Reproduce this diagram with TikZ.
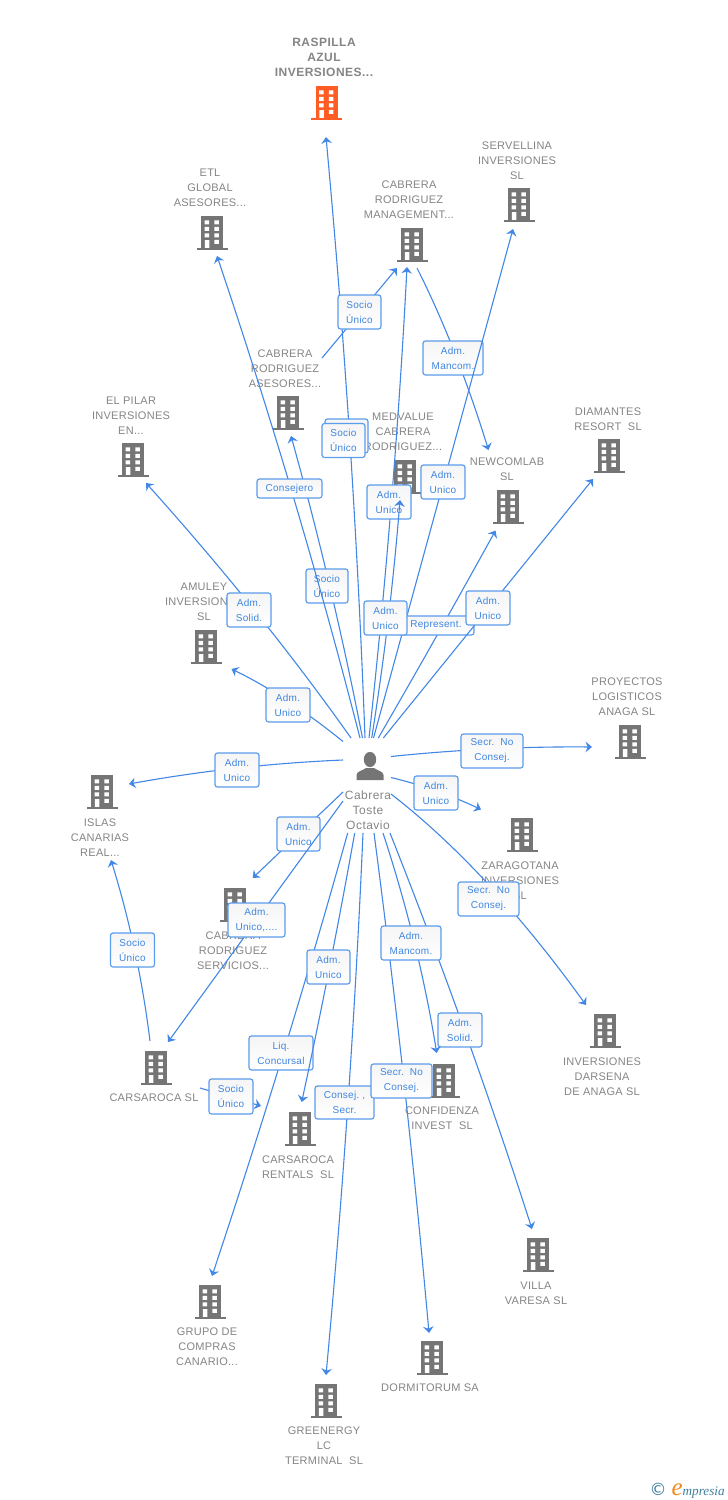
\documentclass[tikz,border=0pt]{standalone}
\usepackage{fontspec}
\setmainfont{Liberation Sans}
\newfontfamily\lblf{Liberation Sans}[LetterSpace=2.5]
\newfontfamily\boxf{Liberation Sans}[LetterSpace=2.5]
\newfontfamily\perf{Liberation Sans}[LetterSpace=4]
\newfontfamily\lblb{Liberation Sans}[LetterSpace=4]
\newfontfamily\markf{Liberation Serif}
\newfontfamily\markc{DejaVu Sans}
\usetikzlibrary{arrows.meta,calc}
\definecolor{linkblue}{HTML}{4287E6}
\definecolor{tagline}{HTML}{5C9CEC}
\definecolor{tagtext}{HTML}{3F86E0}
\definecolor{tagtop}{HTML}{F5F5F5}
\definecolor{labelgray}{HTML}{858585}
\definecolor{icongray}{HTML}{757575}
\definecolor{iconorange}{HTML}{FF5C26}
\definecolor{markteal}{HTML}{3F7F9F}
\definecolor{markorange}{HTML}{F08A1E}
\tikzset{
  x=1pt,y=-1pt,
  bld/.style={rectangle,inner sep=0pt,minimum size=34pt,path picture={
    \begin{scope}[shift={(path picture bounding box.center)}]
      \fill[#1] (-11,-17) rectangle (11,15);
      \fill[#1] (-15.5,14.8) rectangle (15.5,17);
      \fill[white] (-7.4,-12.6) rectangle (-3,-8.6) (2.4,-12.6) rectangle (6.8,-8.6)
                   (-7.4,-6.2) rectangle (-3,-2.2) (2.4,-6.2) rectangle (6.8,-2.2)
                   (-7.4,0.3) rectangle (-3,4.3) (2.4,0.3) rectangle (6.8,4.3)
                   (2.4,6.9) rectangle (6.8,10.9) (-7.2,7) rectangle (-2.6,14.8);
    \end{scope}}},
  personbox/.style={rectangle,inner sep=0pt,minimum width=48pt,minimum height=95pt,path picture={
    \begin{scope}[shift={(path picture bounding box.center)}]
      \fill[icongray] (3,-26) ellipse [x radius=6.2,y radius=7.6];
      \fill[icongray] (-10.5,-5.5) -- (-10.5,-10.5) .. controls (-10,-14.5) and (-5,-14.5) .. (-1,-17.5)
        -- (7,-17.5) .. controls (11,-14.5) and (16,-14.5) .. (16.5,-10.5) -- (16.5,-5.5) -- cycle;
    \end{scope}}},
  blabel/.style={text=labelgray,align=center,inner sep=0pt,yshift=-0.8pt,font=\lblf\fontsize{11}{15}\selectfont},
  mainlabel/.style={text=labelgray,align=center,inner sep=0pt,yshift=-0.8pt,font=\lblb\bfseries\fontsize{12}{15}\selectfont},
  perlabel/.style={text=labelgray,align=center,inner sep=0pt,yshift=-0.8pt,font=\perf\fontsize{12}{15}\selectfont},
  tagbox/.style={rectangle,rounded corners=2.5pt,draw=tagline,line width=1.2pt,top color=tagtop,bottom color=white,
    text=tagtext,align=center,inner sep=0pt,font=\boxf\fontsize{10}{15}\selectfont},
  link/.style={draw=linkblue,line width=1.1pt,-{Stealth[length=6.5pt,width=10.5pt,inset=2.2pt]}}
}
% \tagn{name}{cx,cy}{w}{h}{text}
\newcommand{\tagn}[5]{\node[tagbox,minimum width=#3pt,minimum height=#4pt] (#1) at (#2) {#5};}
% \bnode{name}{cx,cy}{lx,ly}{text}
\newcommand{\bnode}[4]{\node[bld=icongray] (#1) at (#2) {}; \node[blabel] (#1t) at (#3) {#4};}
% \qlink{from}{offset}{bow point}{to}{offset}: one smooth bow from node to node
\newcommand{\qlink}[5]{%
  \coordinate (qm) at ($($(#1)+(#2)$)!.5!($(#4)+(#5)$)$);
  \coordinate (qc) at ($(qm)!1.5!(#3)$);
  \draw[link] ($(#1)+(#2)$) .. controls ($($(#1)+(#2)$)!.667!(qc)$) and ($($(#4)+(#5)$)!.667!(qc)$) .. ($(#4)+(#5)$);}
\begin{document}
\begin{tikzpicture}
\useasboundingbox (0,0) rectangle (728,1500);
\fill[white] (0,0) rectangle (728,1500);
% buildings and their names
\node[bld=iconorange] (b1) at (326.5,103) {}; \node[mainlabel] (b1t) at (324,57) {RASPILLA\\AZUL\\INVERSIONES...};
\bnode{b2}{212,233}{210,187}{ETL\\GLOBAL\\ASESORES...}
\bnode{b3}{519,205}{517,160}{SERVELLINA\\INVERSIONES\\SL}
\bnode{b4}{412,245}{409,199}{CABRERA\\RODRIGUEZ\\MANAGEMENT...}
\bnode{b5}{288,413}{285,368}{CABRERA\\RODRIGUEZ\\ASESORES...}
\bnode{b6}{133,460}{131,415}{EL PILAR\\INVERSIONES\\EN...}
\bnode{b7}{405,477}{403,431}{MEDVALUE\\CABRERA\\RODRIGUEZ...}
\bnode{b8}{508,507}{507,468.5}{NEWCOMLAB\\SL}
\bnode{b9}{609,456}{608,418.5}{DIAMANTES\\RESORT~~SL}
\bnode{b10}{206,647}{204,601}{AMULEY\\INVERSIONES\\SL}
\bnode{b11}{630,742}{627,696}{PROYECTOS\\LOGISTICOS\\ANAGA SL}
\bnode{b12}{102,792}{100,837}{ISLAS\\CANARIAS\\REAL...}
\bnode{b13}{522,835}{520,880}{ZARAGOTANA\\INVERSIONES\\SL}
\bnode{b14}{235,905}{233,950}{CABRERA\\RODRIGUEZ\\SERVICIOS...}
\bnode{b15}{156,1068}{154,1097}{CARSAROCA SL}
\bnode{b16}{605,1031}{602,1076}{INVERSIONES\\DARSENA\\DE ANAGA SL}
\bnode{b17}{444,1081}{442,1117.5}{CONFIDENZA\\INVEST~~SL}
\bnode{b18}{300,1129}{298,1166.5}{CARSAROCA\\RENTALS~~SL}
\bnode{b19}{538,1255}{536,1292.5}{VILLA\\VARESA SL}
\bnode{b20}{210,1302}{207,1346}{GRUPO DE\\COMPRAS\\CANARIO...}
\bnode{b21}{432,1358}{430,1387}{DORMITORUM SA}
\bnode{b22}{326,1401}{324,1445}{GREENERGY\\LC\\TERMINAL~~SL}
% central person
\node[personbox] (p) at (367,785.5) {};
\node[perlabel] (pt) at (368,809) {Cabrera\\Toste\\Octavio};
% connectors with their tags, later ones lying over earlier ones
\qlink{p}{-2,-47.5}{351,437}{b1}{-0.5,34}
\tagn{t1}{346.5,436}{43}{34}{Socio\\Único}
\tagn{t2}{343.5,440.5}{43}{34}{Socio\\Único}
\qlink{p}{-4.5,-47.5}{331,587}{b5}{3,23}
\tagn{t3}{327,586}{42}{34}{Socio\\Único}
\qlink{p}{-7,-47.5}{295,497}{b2}{5,23}
\tagn{t4}{289.5,488.5}{65}{19}{Consejero}
\draw[link] ($(b5)+(34,-55)$) -- ($(b4)+(-15,23)$);
\tagn{t5}{359.5,312}{43}{34}{Socio\\Único}
\qlink{b4}{5,23}{455,350}{b8}{-19.5,-57}
\tagn{t6}{453,358}{60}{34}{Adm.\\Mancom.}
\qlink{p}{2,-47.5}{392.5,502}{b4}{-5,22}
\tagn{t7}{389,502}{44}{34}{Adm.\\Unico}
\draw[link] ($(p)+(6.5,-47.5)$) -- ($(b3)+(-6,24)$);
\tagn{t8}{443,482}{44}{34}{Adm.\\Unico}
\qlink{p}{11.3,-47.5}{438,634}{b8}{-12.5,23.5}
\tagn{t9}{436,625.5}{76}{19}{Represent.}
\draw[link] ($(p)+(16.3,-47.5)$) -- ($(b9)+(-16,23)$);
\tagn{t10}{488,608}{44}{34}{Adm.\\Unico}
\qlink{p}{4.7,-47.5}{389,619}{b7}{-5,23}
\tagn{t11}{385.5,618}{43}{34}{Adm.\\Unico}
\qlink{p}{-16,-47.5}{257,611}{b6}{13,23}
\tagn{t12}{249,610}{44}{34}{Adm.\\Solid.}
\qlink{p}{-24,-44}{287,699}{b10}{25.5,22}
\tagn{t13}{288,705}{44}{34}{Adm.\\Unico}
\qlink{p}{24,-29}{491,748}{b11}{-38,5}
\tagn{t14}{492,751}{62}{34}{Secr.~~No\\Consej.}
\qlink{p}{-24,-25.5}{236,767}{b12}{27,-8}
\tagn{t15}{237,770}{44}{34}{Adm.\\Unico}
\qlink{p}{24,-8}{436,790}{b13}{-41,-25.5}
\tagn{t16}{436,793}{44}{34}{Adm.\\Unico}
\draw[link] ($(p)+(-24,6.5)$) -- ($(b14)+(17.7,-27)$);
\tagn{t17}{298.5,834}{43}{34}{Adm.\\Unico}
\draw[link] ($(p)+(-24,15.5)$) -- ($(b15)+(12,-26)$);
\tagn{t18}{256.5,920}{57}{34}{Adm.\\Unico,....}
\qlink{p}{24,8.5}{488,879}{b16}{-19,-26}
\tagn{t19}{488.5,899}{61}{34}{Secr.~~No\\Consej.}
\qlink{b15}{-6,-27}{136,950}{b12}{9,68}
\tagn{t20}{132.5,950}{44}{34}{Socio\\Único}
\draw[link] ($(b15)+(44,20)$) -- ($(b18)+(-39,-23)$);
\tagn{t21}{231,1096.5}{44}{35}{Socio\\Único}
\qlink{p}{-19.3,47.5}{284,1054}{b20}{2,-26}
\tagn{t22}{281,1053}{64}{34}{Liq.\\Concursal}
\qlink{p}{-12.3,47.5}{330,967}{b18}{1.7,-27}
\tagn{t23}{328.5,967}{43}{34}{Adm.\\Unico}
\qlink{p}{-4,47.5}{349,1104}{b22}{0,-26}
\tagn{t24}{344.5,1102.5}{59}{33}{Consej.~,\\Secr.}
\qlink{p}{23,47.5}{466,1031}{b19}{-6,-26}
\tagn{t25}{460,1030}{44}{34}{Adm.\\Solid.}
\qlink{p}{7,47.5}{405,1083}{b21}{-3,-25}
\tagn{t26}{401.5,1081}{61}{34}{Secr.~~No\\Consej.}
\qlink{p}{16,47.5}{416,943}{b17}{-7.3,-28}
\tagn{t27}{411,943}{60}{34}{Adm.\\Mancom.}
% footer mark
\node[inner sep=0pt,text=markteal,font=\markc\fontsize{17}{17}\selectfont] (mc) at (658,1489) {©};
\node[inner sep=0pt,text=markorange,font=\markf\itshape\fontsize{25}{25}\selectfont,anchor=base west] (me) at (671.5,1495) {e};
\node[inner sep=0pt,text=markteal,font=\markf\itshape\fontsize{13.2}{14}\selectfont,anchor=base west] (mr) at (682.5,1495) {mpresia};
\end{tikzpicture}
\end{document}
